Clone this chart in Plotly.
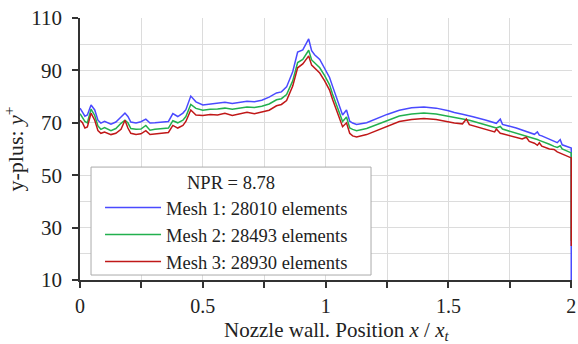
import plotly.graph_objects as go

X = [0.000, 0.010, 0.020, 0.030, 0.045, 0.060, 0.073, 0.085, 0.100, 0.126,
     0.146, 0.167, 0.183, 0.195, 0.207, 0.228, 0.248, 0.268, 0.285, 0.305,
     0.330, 0.360, 0.378, 0.398, 0.419, 0.431, 0.451, 0.472, 0.500, 0.530,
     0.560, 0.590, 0.620, 0.650, 0.680, 0.710, 0.740, 0.770, 0.800, 0.820,
     0.841, 0.866, 0.886, 0.907, 0.923, 0.931, 0.943, 0.955, 0.976, 0.996,
     1.016, 1.028, 1.049, 1.069, 1.085, 1.098, 1.110, 1.126, 1.167, 1.207,
     1.250, 1.300, 1.350, 1.400, 1.450,
     1.500, 1.524, 1.557, 1.573, 1.585, 1.600, 1.650, 1.688, 1.695, 1.711,
     1.720, 1.776, 1.800, 1.817, 1.829, 1.850, 1.862, 1.870, 1.880, 1.911,
     1.930, 1.943, 1.955, 1.963, 2.000, 2.000]

MESH1 = [75.6, 74.0, 72.5, 73.0, 76.8, 74.9, 71.0, 69.9, 70.6, 69.5,
         70.3, 72.2, 73.7, 72.4, 70.3, 69.9, 70.4, 71.4, 69.9, 70.0,
         70.3, 70.5, 73.5, 72.4, 73.7, 75.0, 80.2, 78.0, 76.8, 77.2,
         77.4, 77.8, 77.4, 77.8, 78.2, 78.0, 78.6, 79.8, 81.4, 81.8,
         83.7, 89.5, 97.0, 97.8, 100.5, 102.0, 97.5, 96.0, 94.2, 91.0,
         87.3, 84.0, 78.0, 73.0, 74.9, 70.6, 69.9, 69.4, 70.0, 71.6,
         73.2, 74.8, 75.7, 76.0, 75.6,
         74.6, 73.9, 73.3, 73.0, 72.7, 72.3, 71.1, 70.0, 69.8, 71.4,
         69.4, 68.0, 67.3, 66.8, 66.3, 65.6, 66.5, 65.3, 65.0, 63.7,
         62.8, 62.4, 63.6, 61.6, 60.4, 10.0]

MESH2 = [73.5, 72.0, 70.5, 70.0, 75.2, 72.8, 68.8, 67.5, 68.2, 67.0,
         67.8, 69.8, 71.0, 70.0, 67.8, 67.5, 67.6, 69.0, 67.2, 67.5,
         67.8, 68.0, 70.8, 70.0, 71.0, 72.4, 77.0, 75.5, 74.8, 75.2,
         75.3, 75.6, 75.2, 75.6, 76.0, 75.8, 76.3, 77.2, 78.8, 79.2,
         80.8, 86.0, 93.0, 94.2, 96.5, 97.7, 94.0, 93.0, 91.0, 88.0,
         84.5, 81.0, 75.5, 70.5, 72.2, 68.0, 67.5, 67.0, 67.8, 69.3,
         71.0, 72.6, 73.4, 73.7, 73.4,
         72.6, 72.2, 71.6, 71.3, 71.0, 70.6, 69.4, 68.2, 68.0, 68.6,
         67.6, 66.1, 65.5, 65.0, 64.6, 63.9, 63.6, 63.3, 63.0, 61.8,
         61.0, 60.6, 61.2, 60.0, 58.5, 25.0]

MESH3 = [71.0, 70.0, 68.0, 68.4, 73.7, 71.0, 67.0, 66.0, 66.5, 65.5,
         66.0, 67.5, 71.0, 68.0, 66.0, 65.5, 65.8, 67.0, 65.5, 65.7,
         66.0, 66.3, 69.0, 68.0, 69.0, 70.5, 74.9, 73.0, 72.8, 73.2,
         73.0, 73.6, 72.8, 73.5, 74.0, 73.5, 74.2, 74.8, 76.5, 77.0,
         78.5, 84.0, 91.0, 92.5, 94.5, 95.5, 92.0, 91.0, 89.0, 86.0,
         82.5, 79.0, 73.5, 68.5, 70.0, 66.0, 65.0, 64.6, 65.5, 67.0,
         68.8, 70.5, 71.3, 71.6, 71.3,
         70.4, 69.9, 69.6, 71.4, 69.3, 68.9, 67.8, 66.5, 67.6, 66.0,
         65.8, 64.3, 63.8, 64.5, 62.9, 62.2, 61.4, 62.4, 61.1, 60.0,
         59.8, 58.9, 58.4, 58.0, 56.6, 23.0]

NAMES = ["Mesh 1: 28010 elements", "Mesh 2: 28493 elements", "Mesh 3: 28930 elements"]
COLORS = ["#4a4aff", "#22b04e", "#c01818"]
Y_TICKS = [10, 30, 50, 70, 90, 110]
X_TICKS = [0, 0.5, 1, 1.5, 2]
X_TICK_TEXT = ["0", "0.5", "1", "1.5", "2"]
LEGEND_TITLE = "NPR = 8.78"
X_TITLE = "Nozzle wall. Position <i>x</i> / <i>x</i><sub><i>t</i></sub>"
Y_TITLE = "y-plus: <i>y</i><sup>+</sup>"

FONT = "Liberation Serif, Times New Roman, serif"

fig = go.Figure()
for ys, name, col in zip([MESH1, MESH2, MESH3], NAMES, COLORS):
    fig.add_trace(go.Scatter(x=X, y=ys, mode="lines", name=name,
                             line=dict(color=col, width=1.5)))

# legend frame and heading
fig.add_shape(type="rect", xref="paper", yref="paper",
              x0=0.0224, x1=0.5915, y0=0.019, y1=0.431,
              fillcolor="white", line=dict(color="#aaaaaa", width=1),
              layer="above")
fig.add_annotation(text=LEGEND_TITLE, xref="paper", yref="paper",
                   x=0.307, y=0.37, showarrow=False,
                   xanchor="center", yanchor="middle",
                   font=dict(family=FONT, size=18.5, color="#222"))
# x-axis title
fig.add_annotation(text=X_TITLE, xref="paper", yref="paper",
                   x=0.522, y=-0.196, showarrow=False,
                   xanchor="center", yanchor="middle",
                   font=dict(family=FONT, size=21, color="#222"))

fig.update_layout(
    width=578, height=344,
    margin=dict(l=80, r=6, t=18, b=64),
    paper_bgcolor="white", plot_bgcolor="white",
    font=dict(family=FONT, size=20, color="#222"),
    showlegend=True,
    legend=dict(
        x=0.0407, y=0.172, xanchor="left", yanchor="middle",
        bgcolor="rgba(0,0,0,0)", borderwidth=0,
        font=dict(family=FONT, size=18.5, color="#222"),
        itemwidth=56, tracegroupgap=0,
    ),
)

fig.update_xaxes(
    range=[0, 2.003], tickvals=X_TICKS, ticktext=X_TICK_TEXT,
    automargin=False,
    showline=True, linecolor="#333", linewidth=1.5,
    ticks="outside", ticklen=6, tickcolor="#333", tickwidth=1.5,
    ticklabelstandoff=1,
    showgrid=True, gridcolor="#dcdcdc", gridwidth=1,
    minor=dict(dtick=0.25, tick0=0, ticks="outside", ticklen=6,
               tickcolor="#333", tickwidth=1.5, showgrid=True,
               gridcolor="#dcdcdc", gridwidth=1),
    zeroline=False,
    tickfont=dict(family=FONT, size=20),
)
fig.update_yaxes(
    range=[10, 110], tickvals=Y_TICKS,
    automargin=False,
    showline=True, linecolor="#333", linewidth=1.5,
    ticks="outside", ticklen=6, tickcolor="#333", tickwidth=1.5,
    ticklabelstandoff=6,
    showgrid=True, gridcolor="#dcdcdc", gridwidth=1,
    minor=dict(dtick=10, tick0=10, ticks="", showgrid=True,
               gridcolor="#dcdcdc", gridwidth=1),
    zeroline=False,
    tickfont=dict(family=FONT, size=21),
    title=dict(text=Y_TITLE, font=dict(family=FONT, size=22)),
)

fig.write_html("out.html")
